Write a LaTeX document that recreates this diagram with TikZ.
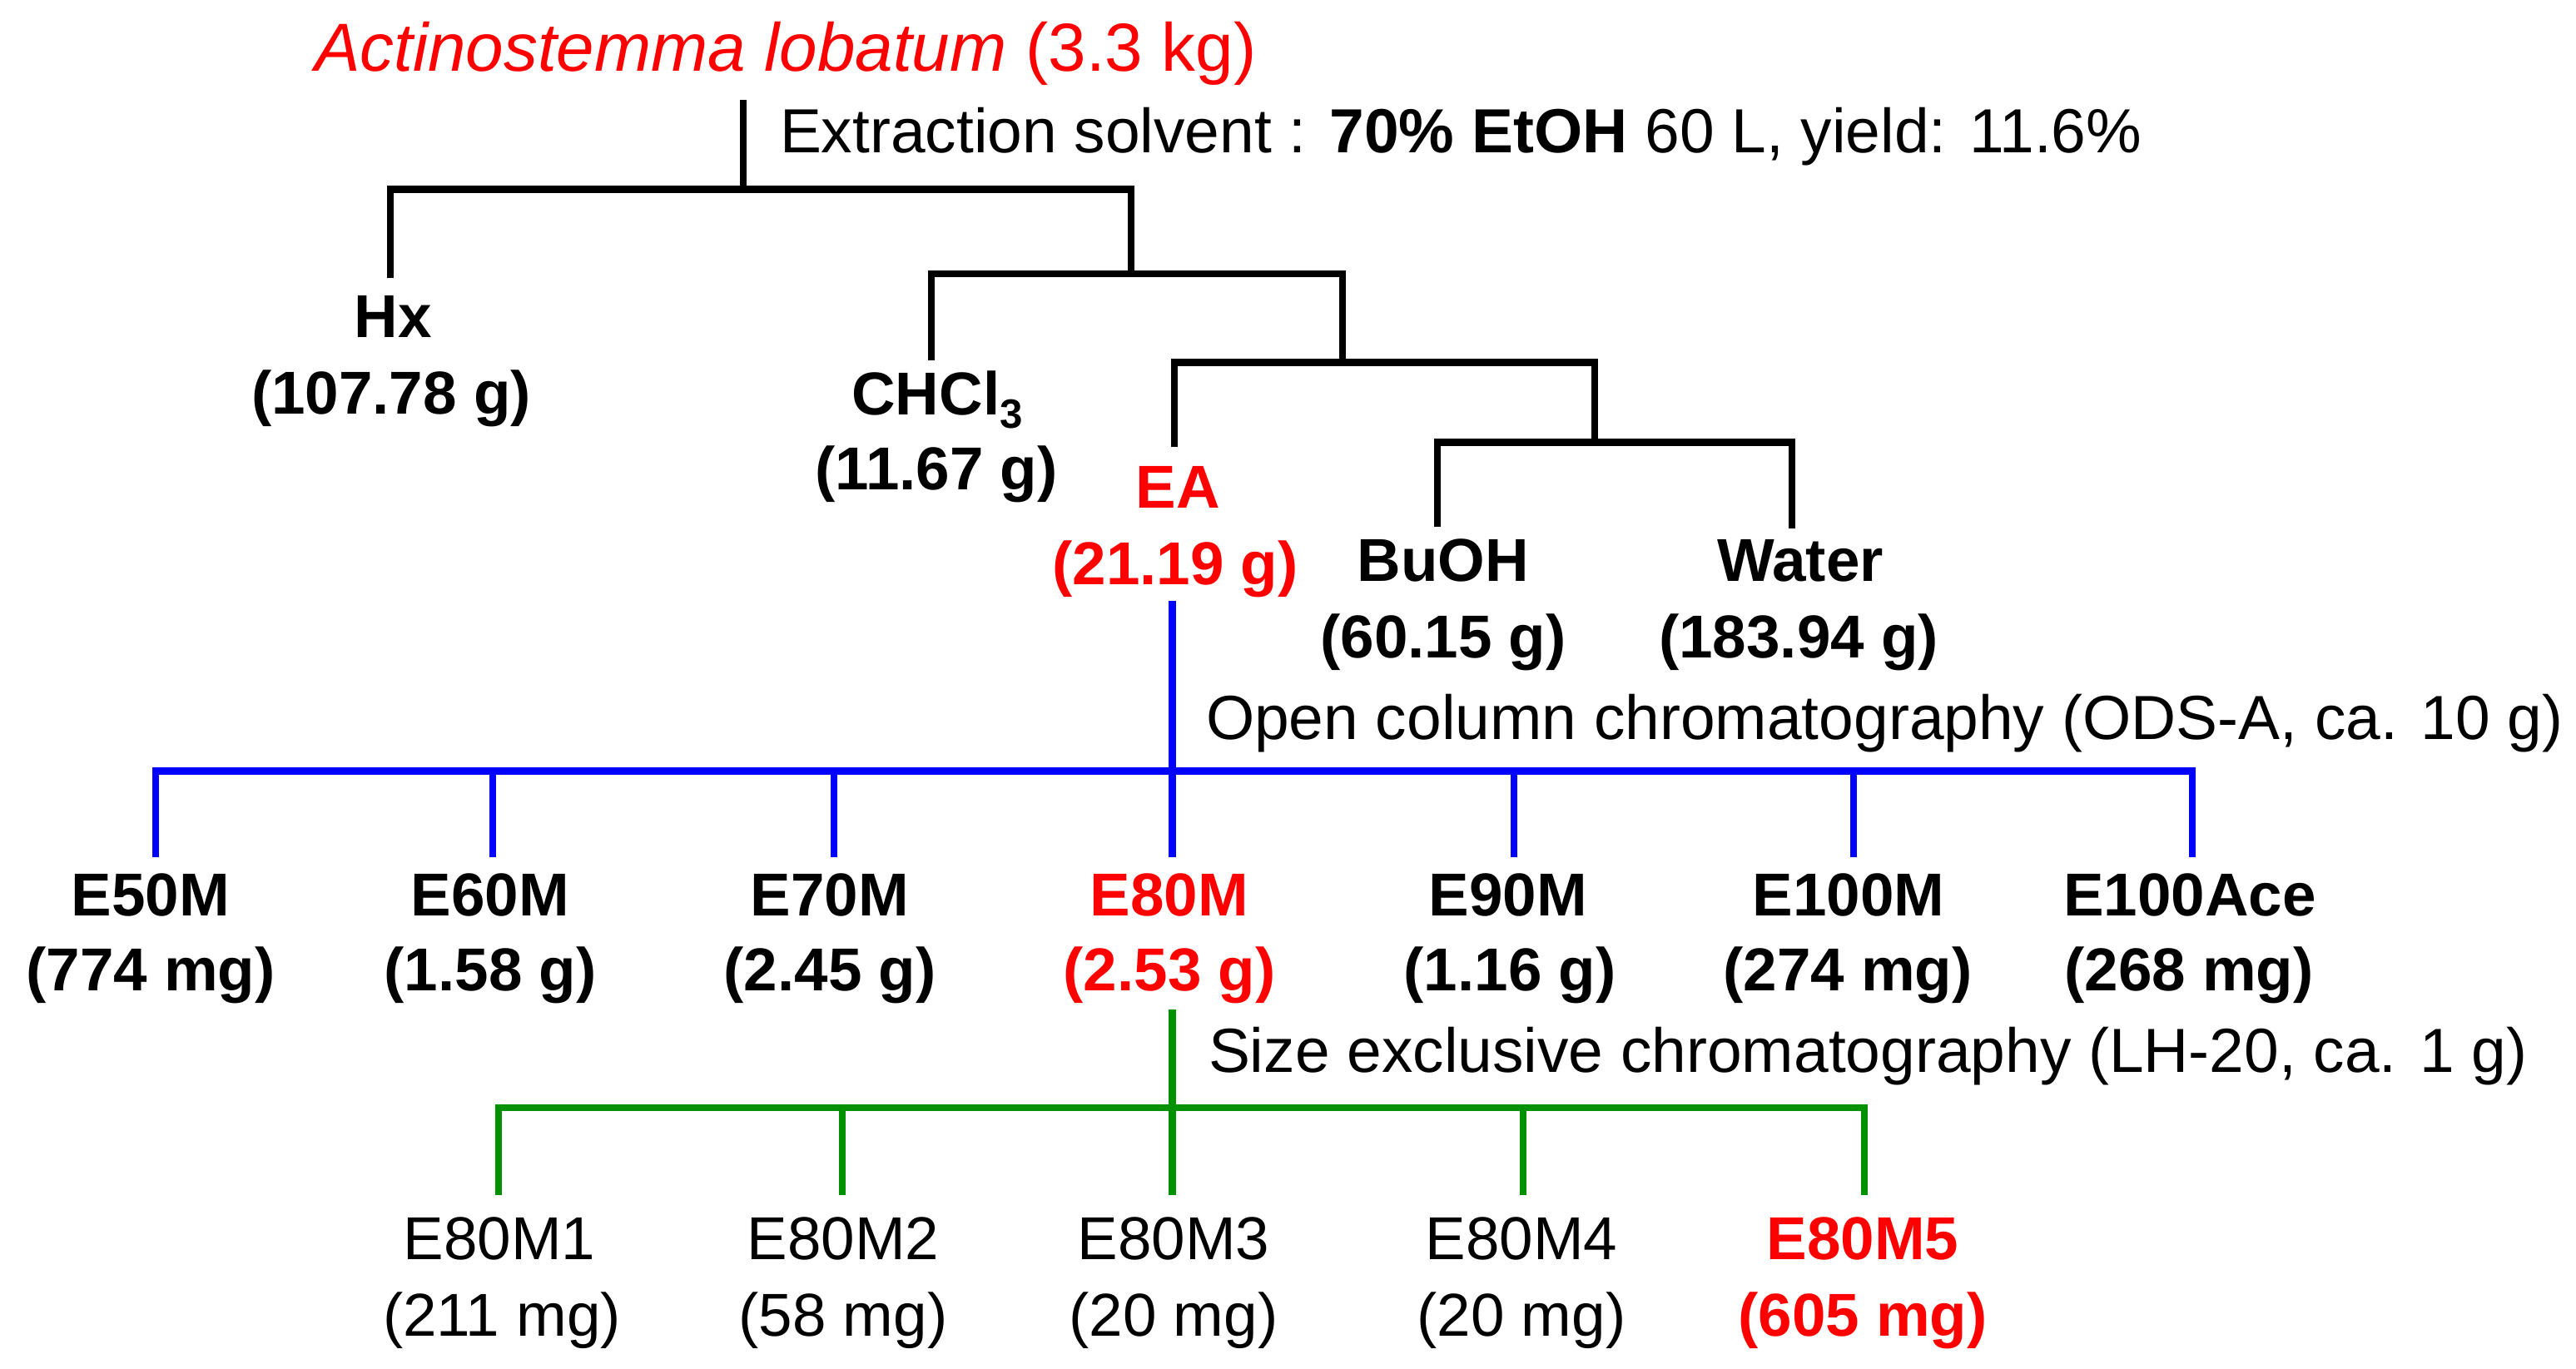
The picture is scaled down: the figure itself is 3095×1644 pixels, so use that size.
\documentclass[tikz,border=0pt]{standalone}
\usepackage{fontspec}
\setmainfont{Liberation Sans}
\definecolor{tred}{RGB}{255,0,0}
\definecolor{tblue}{RGB}{0,0,255}
\definecolor{tgreen}{RGB}{0,145,0}
\begin{document}
\begin{tikzpicture}[x=0.01cm, y=-0.01cm,
  every node/.style={inner sep=0pt, outer sep=0pt},
  lblname/.style={anchor=base, font=\fontsize{20.7}{24}\selectfont\bfseries},
  lblplain/.style={anchor=base, font=\fontsize{20.7}{24}\selectfont},
  notetext/.style={anchor=base west, font=\fontsize{21.3}{25}\selectfont},
  blk/.style={draw=black, line width=0.085cm, line join=miter},
  blu/.style={draw=tblue, line width=0.085cm, line join=miter},
  grn/.style={draw=tgreen, line width=0.085cm, line join=miter}]
\useasboundingbox (0,0) rectangle (3095,1644);

% ---- texts ----
\node[anchor=base west, text=tred, font=\fontsize{23.25}{27}\selectfont] (title) at (378,85) {\textit{Actinostemma lobatum} (3.3 kg)};
\node[notetext] (ext) at (937,183) {Extraction solvent : \textbf{70\% EtOH} 60 L, yield: 11.6\%};
\node[lblname] (hx) at (472,405) {Hx};
\node[lblname] (hxm) at (470,497) {(107.78 g)};
\node[lblname] (chcl) at (1126,498) {CHCl\raisebox{-4.8pt}{\fontsize{14}{16}\selectfont 3}};
\node[lblname] (chclm) at (1125,588) {(11.67 g)};
\node[lblname, text=tred] (ea) at (1415,610) {EA};
\node[lblname, text=tred] (eam) at (1412,702) {(21.19 g)};
\node[lblname] (buoh) at (1734,698) {BuOH};
\node[lblname] (buohm) at (1734,790) {(60.15 g)};
\node[lblname] (water) at (2163,698) {Water};
\node[lblname] (waterm) at (2161,790) {(183.94 g)};
\node[notetext] (occ) at (1449,888) {Open column chromatography (ODS-A, ca. 10 g)};

\node[lblname] (e50) at (181,1100) {E50M};
\node[lblname] (e50m) at (181,1190) {(774 mg)};
\node[lblname] (e60) at (589,1100) {E60M};
\node[lblname] (e60m) at (589,1190) {(1.58 g)};
\node[lblname] (e70) at (997,1100) {E70M};
\node[lblname] (e70m) at (997,1190) {(2.45 g)};
\node[lblname, text=tred] (e80) at (1405,1100) {E80M};
\node[lblname, text=tred] (e80m) at (1405,1190) {(2.53 g)};
\node[lblname] (e90) at (1812,1100) {E90M};
\node[lblname] (e90m) at (1814,1190) {(1.16 g)};
\node[lblname] (e100) at (2221,1100) {E100M};
\node[lblname] (e100m) at (2220,1190) {(274 mg)};
\node[lblname] (e100a) at (2631,1100) {E100Ace};
\node[lblname] (e100am) at (2630,1190) {(268 mg)};
\node[notetext] (sec) at (1452,1288) {Size exclusive chromatography (LH-20, ca. 1 g)};

\node[lblplain] (m1) at (600,1513) {E80M1};
\node[lblplain] (m1m) at (603,1605) {(211 mg)};
\node[lblplain] (m2) at (1013,1513) {E80M2};
\node[lblplain] (m2m) at (1013,1605) {(58 mg)};
\node[lblplain] (m3) at (1410,1513) {E80M3};
\node[lblplain] (m3m) at (1410,1605) {(20 mg)};
\node[lblplain] (m4) at (1828,1513) {E80M4};
\node[lblplain] (m4m) at (1828,1605) {(20 mg)};
\node[lblname, text=tred] (m5) at (2238,1513) {E80M5};
\node[lblname, text=tred] (m5m) at (2238,1605) {(605 mg)};

% ---- junction coordinates ----
\coordinate (b1) at (893,227.5);
\coordinate (b1l) at (469,227.5);
\coordinate (b1r) at (1359,227.5);
\coordinate (b2l) at (1119,329);
\coordinate (b2m) at (1359,329);
\coordinate (b2r) at (1613,329);
\coordinate (b3l) at (1411,435.5);
\coordinate (b3m) at (1613,435.5);
\coordinate (b3r) at (1916,435.5);
\coordinate (b4l) at (1727,531.5);
\coordinate (b4m) at (1916,531.5);
\coordinate (b4r) at (2153,531.5);

\coordinate (l1) at (187,926.5);
\coordinate (l2) at (592,926.5);
\coordinate (l3) at (1002,926.5);
\coordinate (l4) at (1408.5,926.5);
\coordinate (l5) at (1819,926.5);
\coordinate (l6) at (2227,926.5);
\coordinate (l7) at (2634,926.5);

\coordinate (g1) at (599,1331);
\coordinate (g2) at (1012,1331);
\coordinate (g3) at (1408.5,1331);
\coordinate (g4) at (1830,1331);
\coordinate (g5) at (2240,1331);

% ---- black partition tree ----
\draw[blk, shorten <=0.35cm] (b1 |- title.base) -- (b1);
\draw[blk, shorten <=0.71cm] (b1l |- hx.base) |- (b1r) -- (b2m);
\draw[blk, shorten <=0.65cm] (b2l |- chcl.base) |- (b2r) -- (b3m);
\draw[blk, shorten <=0.73cm] (b3l |- ea.base) |- (b3r) -- (b4m);
\draw[blk, shorten <=0.65cm, shorten >=0.63cm] (b4l |- buoh.base) |- (b4r) -- (b4r |- water.base);

% ---- blue ODS tree ----
\draw[blu, shorten <=0.20cm] (l4 |- eam.base) -- (l4);
\draw[blu, shorten <=0.70cm, shorten >=0.70cm] (l1 |- e50.base) |- (l7) -- (l7 |- e100a.base);
\draw[blu, shorten >=0.70cm] (l2) -- (l2 |- e60.base);
\draw[blu, shorten >=0.70cm] (l3) -- (l3 |- e70.base);
\draw[blu, shorten >=0.70cm] (l4) -- (l4 |- e80.base);
\draw[blu, shorten >=0.70cm] (l5) -- (l5 |- e90.base);
\draw[blu, shorten >=0.70cm] (l6) -- (l6 |- e100.base);

% ---- green LH-20 tree ----
\draw[grn, shorten <=0.23cm] (g3 |- e80m.base) -- (g3);
\draw[grn, shorten <=0.77cm, shorten >=0.77cm] (g1 |- m1.base) |- (g5) -- (g5 |- m5.base);
\draw[grn, shorten >=0.77cm] (g2) -- (g2 |- m2.base);
\draw[grn, shorten >=0.77cm] (g3) -- (g3 |- m3.base);
\draw[grn, shorten >=0.77cm] (g4) -- (g4 |- m4.base);
\end{tikzpicture}
\end{document}
